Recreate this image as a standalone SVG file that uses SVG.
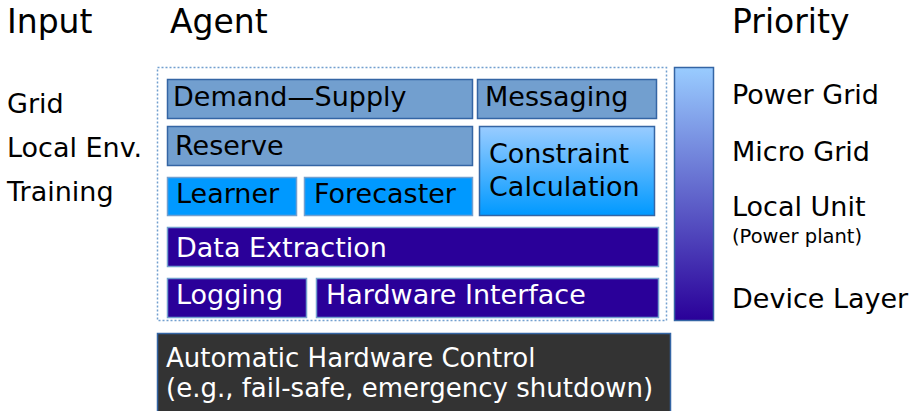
<svg xmlns="http://www.w3.org/2000/svg" width="920" height="411" viewBox="0 0 920 411">
<defs>
<linearGradient id="gc" x1="0" y1="0" x2="0" y2="1"><stop offset="0" stop-color="#99ccff"/><stop offset="1" stop-color="#0099ff"/></linearGradient>
<linearGradient id="gp" x1="0" y1="0" x2="0" y2="1"><stop offset="0" stop-color="#99ccff"/><stop offset="1" stop-color="#2a0099"/></linearGradient>
</defs>
<style>
text{font-family:"DejaVu Sans","Liberation Sans",sans-serif;font-size:27px;fill:#000}
.h{font-size:33px}
.w{fill:#fff}
.a{font-size:26px}
.s{font-size:19.5px}
.b1{fill:#729fcf;stroke:#3465a4;stroke-width:1.5}
.b2{fill:#0099ff;stroke:#729fcf;stroke-width:1.5}
.b3{fill:#2a0099;stroke:#729fcf;stroke-width:1.5}
.frame{fill:none;stroke:#729fcf;stroke-width:1.5;stroke-dasharray:2 2}
</style>
<g id="headers">
<text class="h" x="7" y="33">Input</text>
<text class="h" x="170" y="33">Agent</text>
<text class="h" x="732" y="33">Priority</text>
</g>
<g id="inputs">
<text x="7" y="113">Grid</text>
<text x="7" y="157">Local Env.</text>
<text x="7" y="201">Training</text>
</g>
<g id="agent-frame"><rect class="frame" x="157.5" y="67.5" width="509" height="253"/></g>
<g id="demand-supply"><rect class="b1" x="167.5" y="79.5" width="305" height="39"/><text x="173" y="106">Demand—Supply</text></g>
<g id="messaging"><rect class="b1" x="477.5" y="79.5" width="179" height="39"/><text x="485" y="106">Messaging</text></g>
<g id="reserve"><rect class="b1" x="167.5" y="126.5" width="305" height="39"/><text x="175" y="155">Reserve</text></g>
<g id="constraint"><rect x="479.5" y="126.5" width="175" height="89" fill="url(#gc)" stroke="#3465a4" stroke-width="1.5"/><text x="489" y="163">Constraint</text><text x="489" y="196">Calculation</text></g>
<g id="learner"><rect class="b2" x="167.5" y="177.5" width="129" height="38"/><text x="176" y="203">Learner</text></g>
<g id="forecaster"><rect class="b2" x="304.5" y="177.5" width="168" height="38"/><text x="314" y="203">Forecaster</text></g>
<g id="data-extraction"><rect class="b3" x="167.5" y="227.5" width="491" height="39"/><text class="w" x="176" y="257">Data Extraction</text></g>
<g id="logging"><rect class="b3" x="167.5" y="278.5" width="139" height="39"/><text class="w" x="176" y="304">Logging</text></g>
<g id="hardware-interface"><rect class="b3" x="316.5" y="278.5" width="342" height="39"/><text class="w" x="326" y="304">Hardware Interface</text></g>
<g id="auto-control"><rect x="157.5" y="333.5" width="513" height="80" fill="#333333" stroke="#3465a4" stroke-width="1.5"/><text class="w a" x="166" y="367">Automatic Hardware Control</text><text class="w a" x="166" y="397">(e.g., fail-safe, emergency shutdown)</text></g>
<g id="priority-bar"><rect x="674.5" y="67.5" width="39" height="253" fill="url(#gp)" stroke="#3465a4" stroke-width="1.5"/></g>
<g id="priority-labels">
<text x="732" y="104">Power Grid</text>
<text x="732" y="161">Micro Grid</text>
<text x="732" y="216">Local Unit</text>
<text class="s" x="732" y="243">(Power plant)</text>
<text x="732" y="308">Device Layer</text>
</g>
<g id="connectors"/>
</svg>
